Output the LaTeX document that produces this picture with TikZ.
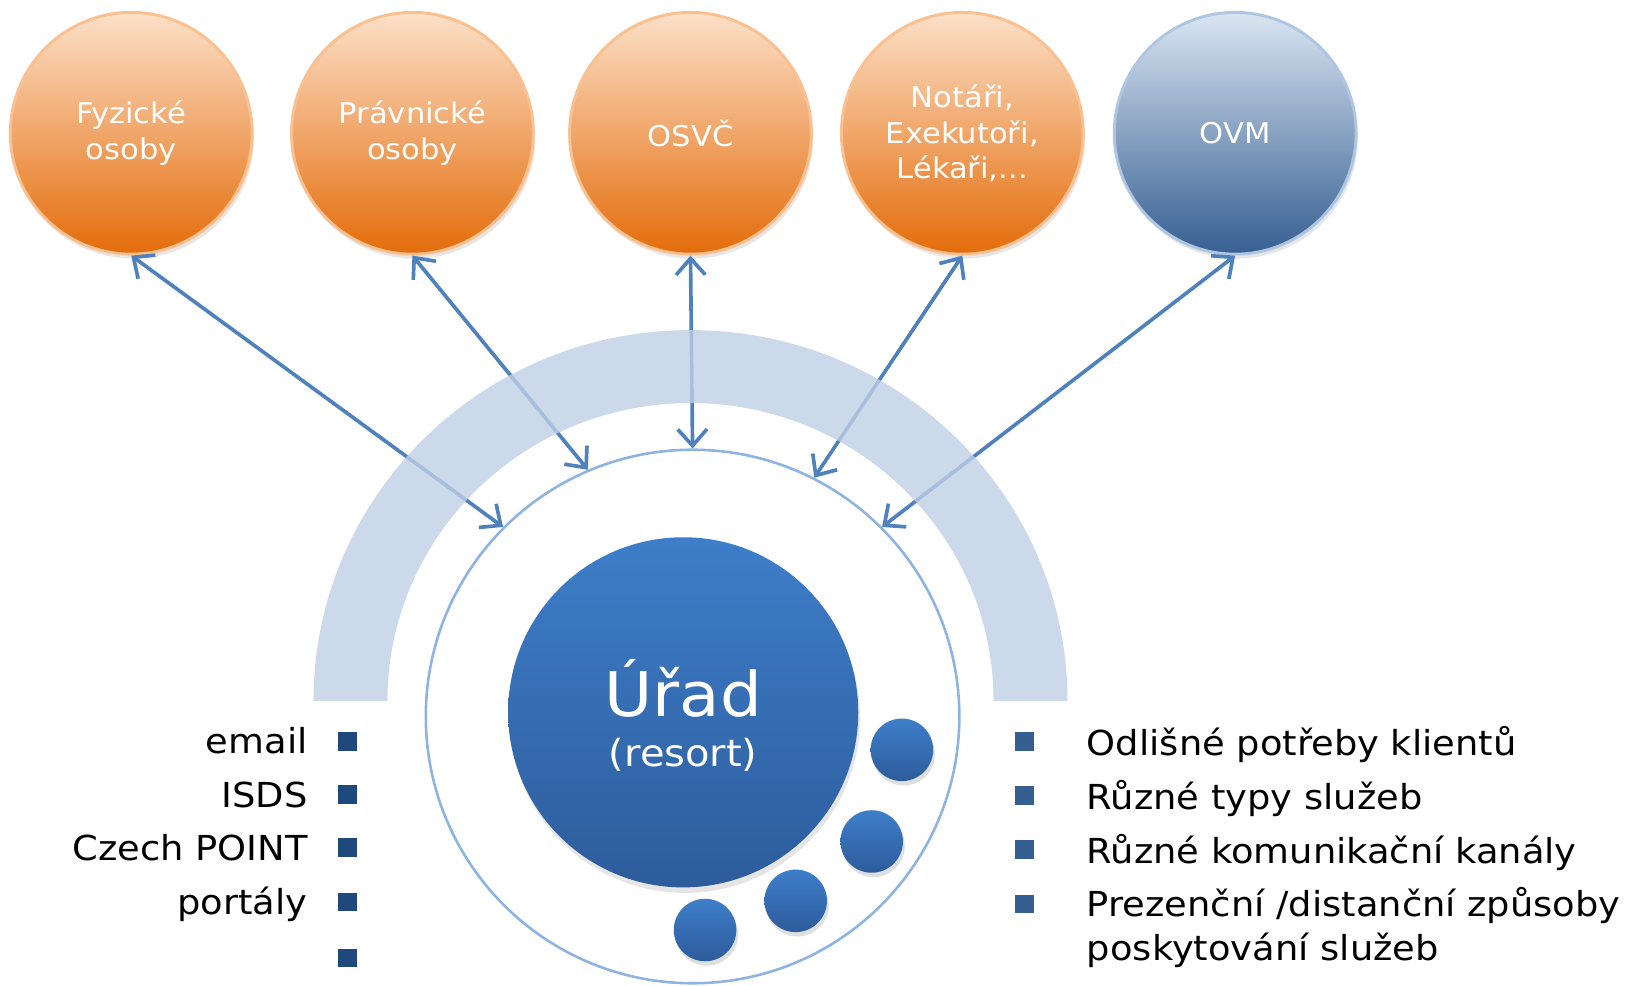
\documentclass[tikz,border=0pt]{standalone}
\usepackage{fontspec}
\setmainfont[FakeStretch=1.07]{DejaVu Sans}
\usetikzlibrary{positioning, arrows.meta, shadows}

\begin{document}
\begin{tikzpicture}[x=0.01cm, y=0.01cm,
    party/.style={circle, minimum size=2.32cm, inner sep=0pt, align=center, text=white, line width=0.8pt, font=\fontsize{7.8}{9.7}\selectfont, drop shadow={shadow xshift=0.5pt, shadow yshift=-1.2pt, opacity=0.2}},
    orangeball/.style={party, draw=orangeedge, top color=orangetop, bottom color=orangebot},
    blueball/.style={party, draw=ovmedge, top color=ovmtop, bottom color=ovmbot},
    link/.style={{Straight Barb[length=4.5pt,width=8pt]}-{Straight Barb[length=4.5pt,width=8pt]}, draw=arrowblue, line width=1pt},
    pebble/.style={circle, minimum size=0.6cm, inner sep=0pt, top color=uradtop, bottom color=uradbot, drop shadow={shadow xshift=0.5pt, shadow yshift=-1.2pt, opacity=0.25}},
    bullet/.style={rectangle, minimum size=0.18cm, inner sep=0pt},
    item/.style={inner sep=0pt, font=\fontsize{9.4}{12}\selectfont}
]

    % Define colors
    \definecolor{orangetop}{RGB}{252, 224, 200}
    \definecolor{orangebot}{RGB}{228, 108, 10}
    \definecolor{orangeedge}{RGB}{250, 192, 143}
    \definecolor{ovmtop}{RGB}{218, 229, 242}
    \definecolor{ovmbot}{RGB}{54, 95, 145}
    \definecolor{ovmedge}{RGB}{175, 198, 226}
    \definecolor{uradtop}{RGB}{62, 126, 201}
    \definecolor{uradbot}{RGB}{45, 92, 156}
    \definecolor{arrowblue}{RGB}{79, 129, 189}
    \definecolor{ringblue}{RGB}{141, 179, 226}
    \definecolor{bandblue}{RGB}{190, 207, 229}
    \definecolor{leftsq}{RGB}{31, 73, 125}
    \definecolor{rightsq}{RGB}{54, 95, 145}

    \useasboundingbox (0,0) rectangle (1568,946);

    % Outer ring round the office
    \node[circle, draw=ringblue, fill=white, line width=0.7pt, minimum size=5.12cm] (ring) at (665,258) {};

    % Client groups
    \node[orangeball] (fyz) at (126,818) {Fyzické\\osoby};
    \node[orangeball] (prav) at (396,818) {Právnické\\osoby};
    \node[orangeball] (osvc) at (663,818) {OSVČ};
    \node[orangeball] (notar) at (924,818) {Notáři,\\Exekutoři,\\Lékaři,...};
    \node[blueball] (ovm) at (1186,818) {OVM};

    % Links to the ring
    \draw[link] (fyz.south) -- (ring.135);
    \draw[link] (prav.south) -- (ring.113);
    \draw[link] (osvc.south) -- (ring.90);
    \draw[link] (notar.south) -- (ring.63);
    \draw[link] (ovm.south) -- (ring.45);

    % Band over the links
    \fill[bandblue, fill opacity=0.8] (301,273) arc[start angle=180, end angle=0, x radius=362, y radius=356]
        -- ++(-71,0) arc[start angle=0, end angle=180, x radius=291, y radius=286] -- cycle;

    % Office
    \node[circle, minimum size=3.36cm, top color=uradtop, bottom color=uradbot, drop shadow={shadow xshift=0.5pt, shadow yshift=-1.5pt, opacity=0.2}] (urad) at (656,262) {};
    \node[anchor=base, text=white, font=\fontsize{16.8}{20}\selectfont] (uradname) at (656,258) {Úřad};
    \node[anchor=base, text=white, font=\fontsize{10.2}{13}\selectfont] (uradsub) at (656,210) {(resort)};

    % Small circles
    \foreach \x/\y [count=\i] in {866/226, 837/138, 764/81, 677/53} {
        \node[pebble] (s\i) at (\x,\y) {};
    }

    % Channels (left)
    \foreach \y [count=\i] in {234, 183, 132, 80, 26} {
        \node[bullet, fill=leftsq] (l\i) at (334,\y) {};
    }
    \foreach \y/\t in {234/email, 183/ISDS, 132/Czech POINT, 80/portály} {
        \node[item, anchor=base east] at (296,\y-12) {\t};
    }

    % Needs (right)
    \foreach \y [count=\i] in {234, 182, 130, 78} {
        \node[bullet, fill=rightsq] (r\i) at (984,\y) {};
    }
    \node[item, anchor=base west] (t1) at (1043,221) {Odlišné potřeby klientů};
    \node[item, anchor=base west] (t2) at (1043,169) {Různé typy služeb};
    \node[item, anchor=base west] (t3) at (1043,117) {Různé komunikační kanály};
    \node[item, anchor=north west, align=left] (t4) at (1043,95) {Prezenční /distanční způsoby\\poskytování služeb};

\end{tikzpicture}
\end{document}
